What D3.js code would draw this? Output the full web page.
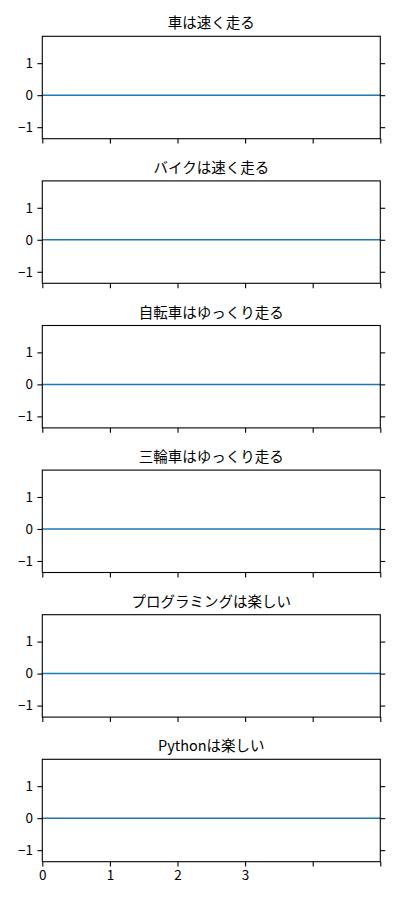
<!DOCTYPE html>
<html>
<head>
<meta charset="utf-8">
<script src="https://cdn.jsdelivr.net/npm/d3@7"></script>
<style>
  html, body { margin: 0; padding: 0; background: #fff; }
  svg { display: block; font-family: "Noto Sans CJK JP", "Noto Sans", sans-serif; }
</style>
</head>
<body>
<div id="chart"></div>
<script>
// Data
const titles = ["車は速く走る", "バイクは速く走る", "自転車はゆっくり走る", "三輪車はゆっくり走る", "プログラミングは楽しい", "Pythonは楽しい"];
const xValues = [0, 1, 2, 3, 4, 5];
const yValues = [0, 0, 0, 0, 0, 0];
const xTicks = [0, 1, 2, 3, 4, 5];
const xTickLabels = ["0", "1", "2", "3", "", ""];
const yTicks = [-1, 0, 1];
const yDomain = [-1.36, 1.84];
const xDomain = [0, 5];

const W = 400, H = 900;
const left = 42.3, right = 380.3;
const panelTop0 = 36.3, panelH = 102.4, panelStep = 144.6;

const svg = d3.select("#chart").append("svg").attr("width", W).attr("height", H);

const x = d3.scaleLinear().domain(xDomain).range([left, right]);

titles.forEach((t, i) => {
  const top = panelTop0 + i * panelStep;
  const bottom = top + panelH;
  const y = d3.scaleLinear().domain(yDomain).range([bottom, top]);
  const g = svg.append("g");

  // line
  const line = d3.line().x((d, k) => x(xValues[k])).y(d => y(d));
  g.append("path").datum(yValues)
    .attr("d", line)
    .attr("fill", "none")
    .attr("stroke", "#1f77b4")
    .attr("stroke-width", 1.5);

  // axes
  const yAxisL = d3.axisLeft(y).tickValues(yTicks).tickSize(4.9).tickPadding(4.5)
    .tickFormat(d => d < 0 ? "\u2212" + Math.abs(d) : String(d));
  const yAxisR = d3.axisRight(y).tickValues(yTicks).tickSize(4.9).tickFormat("");
  const xAxis = d3.axisBottom(x).tickValues(xTicks).tickSize(4.9).tickPadding(4)
    .tickFormat((d, k) => i === titles.length - 1 ? xTickLabels[k] : "");

  [
    g.append("g").attr("transform", `translate(${left},0)`).call(yAxisL),
    g.append("g").attr("transform", `translate(${right},0)`).call(yAxisR),
    g.append("g").attr("transform", `translate(0,${bottom})`).call(xAxis)
  ].forEach(ax => {
    ax.select(".domain").remove();
    ax.selectAll(".tick line").attr("stroke", "#000").attr("stroke-width", 1.1);
    ax.selectAll(".tick text").attr("fill", "#000").style("font-size", "13.5px")
      .style("font-family", "'Noto Sans CJK JP', sans-serif");
  });

  // frame
  g.append("rect")
    .attr("x", left).attr("y", top)
    .attr("width", right - left).attr("height", panelH)
    .attr("fill", "none").attr("stroke", "#000").attr("stroke-width", 1.1);

  // title
  g.append("text")
    .attr("x", (left + right) / 2)
    .attr("y", top - 8)
    .attr("text-anchor", "middle")
    .style("font-size", "14.5px")
    .attr("fill", "#000")
    .text(t);
});
</script>
</body>
</html>
